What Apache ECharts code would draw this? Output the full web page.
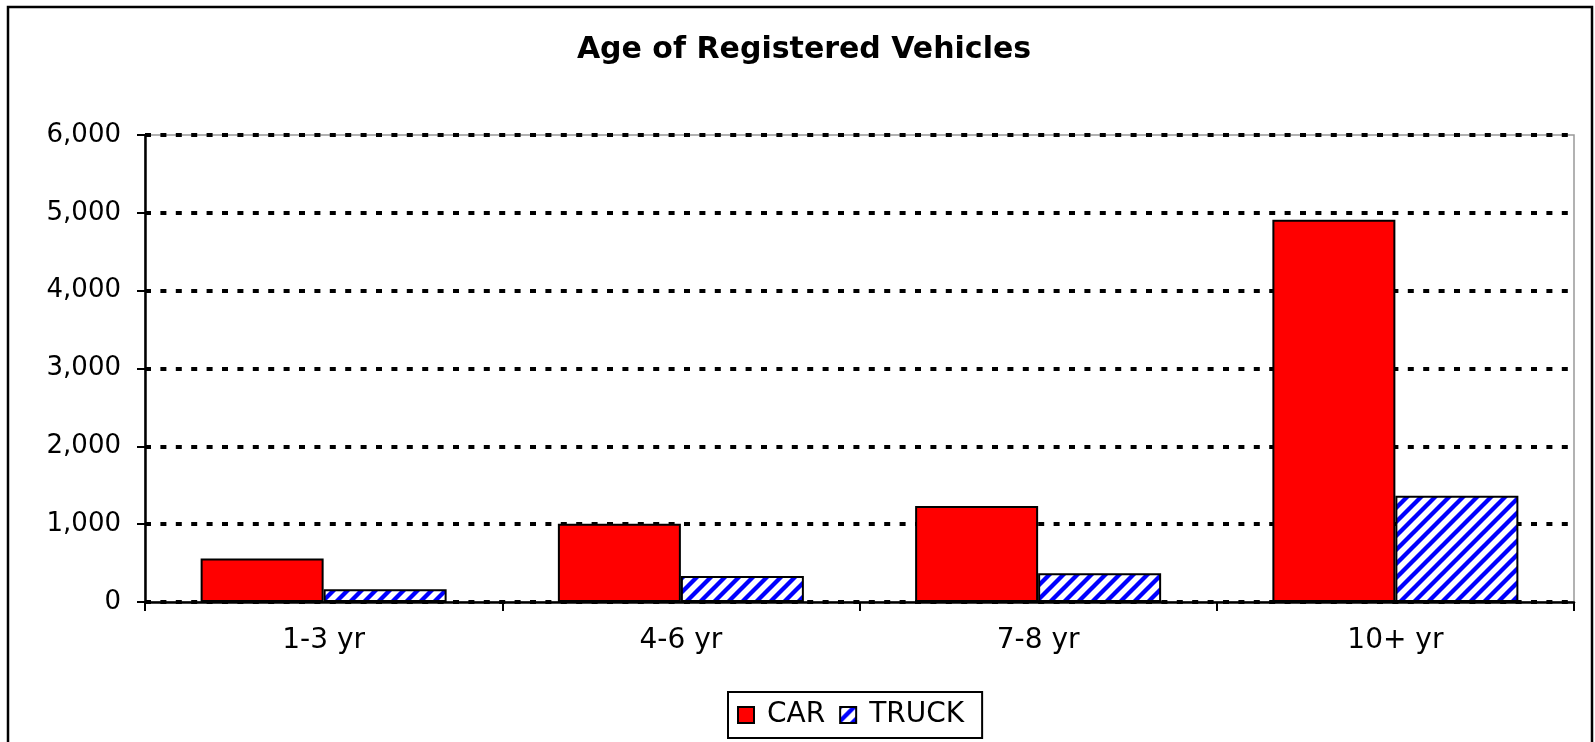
<!DOCTYPE html>
<html>
<head>
<meta charset="utf-8">
<title>Age of Registered Vehicles</title>
<script src="https://cdn.jsdelivr.net/npm/echarts@6/dist/echarts.min.js"></script>
<style>
    html, body { margin: 0; padding: 0; background: #fff; }
    #chart { width: 1595px; height: 742px; }
</style>
</head>
<body>
<div id="chart"></div>
<script>
// data
const categories = ['1-3 yr', '4-6 yr', '7-8 yr', '10+ yr'];
const carValues = [560, 1005, 1232, 4912];
const truckValues = [165, 335, 368, 1365];
const yTicks = [0, 1000, 2000, 3000, 4000, 5000, 6000];

// blue diagonal hatch for the truck bars
function makeHatch() {
    const s = 14;
    const c = document.createElement('canvas');
    c.width = s;
    c.height = s;
    const ctx = c.getContext('2d');
    ctx.fillStyle = '#fff';
    ctx.fillRect(0, 0, s, s);
    ctx.strokeStyle = '#0000ff';
    ctx.lineWidth = 4.3;
    ctx.beginPath();
    ctx.moveTo(-s / 2, s * 1.5); ctx.lineTo(s * 1.5, -s / 2);
    ctx.moveTo(-s / 2, s / 2); ctx.lineTo(s / 2, -s / 2);
    ctx.moveTo(s / 2, s * 1.5); ctx.lineTo(s * 1.5, s / 2);
    ctx.stroke();
    return c;
}

const font = 'DejaVu Sans, Verdana, sans-serif';
const chart = echarts.init(document.getElementById('chart'));

chart.setOption({
    backgroundColor: '#fff',
    animation: false,
    textStyle: { fontFamily: font, color: '#000' },
    title: {
        text: 'Age of Registered Vehicles',
        left: 799,
        textAlign: 'center',
        top: 30,
        textStyle: { fontFamily: font, fontWeight: 'bold', fontSize: 30, color: '#000' }
    },
    graphic: [{
        type: 'rect',
        shape: { x: 8, y: 7, width: 1584, height: 800 },
        style: { fill: null, stroke: '#000', lineWidth: 2.5 },
        z: -1
    }],
    legend: {
        left: 728,
        top: 692,
        padding: [9, 18, 9, 9],
        borderColor: '#000',
        borderWidth: 2,
        itemWidth: 16,
        itemHeight: 16,
        itemGap: 14,
        icon: 'rect',
        textStyle: { fontFamily: font, fontSize: 28, color: '#000', padding: [0, 0, 0, 8] },
        data: ['CAR', 'TRUCK']
    },
    grid: {
        left: 145,
        right: 21,
        top: 135,
        bottom: 140,
        show: true,
        borderColor: '#999',
        borderWidth: 1.5
    },
    xAxis: {
        type: 'category',
        data: categories,
        axisLine: { lineStyle: { color: '#000', width: 2.5 } },
        axisTick: { show: true, length: 9, lineStyle: { color: '#000', width: 2 } },
        axisLabel: { fontFamily: font, fontSize: 28, color: '#000', margin: 25 }
    },
    yAxis: {
        type: 'value',
        min: yTicks[0],
        max: yTicks[yTicks.length - 1],
        interval: 1000,
        axisLine: { show: true, lineStyle: { color: '#000', width: 2.5 } },
        axisTick: { show: true, length: 8, lineStyle: { color: '#000', width: 2 } },
        axisLabel: {
            fontFamily: font, fontSize: 26, color: '#000', margin: 24,
            formatter: v => v.toLocaleString('en-US')
        },
        splitLine: {
            show: true,
            lineStyle: { color: '#000', width: 4, type: [6, 9.4] }
        }
    },
    series: [
        {
            name: 'CAR',
            type: 'bar',
            data: carValues,
            barWidth: 123,
            barGap: '0%',
            itemStyle: { color: '#ff0000', borderColor: '#000', borderWidth: 2 }
        },
        {
            name: 'TRUCK',
            type: 'bar',
            data: truckValues,
            barWidth: 123,
            barGap: '0%',
            itemStyle: {
                color: { image: makeHatch(), repeat: 'repeat' },
                borderColor: '#000',
                borderWidth: 2
            }
        }
    ]
});
</script>
</body>
</html>
